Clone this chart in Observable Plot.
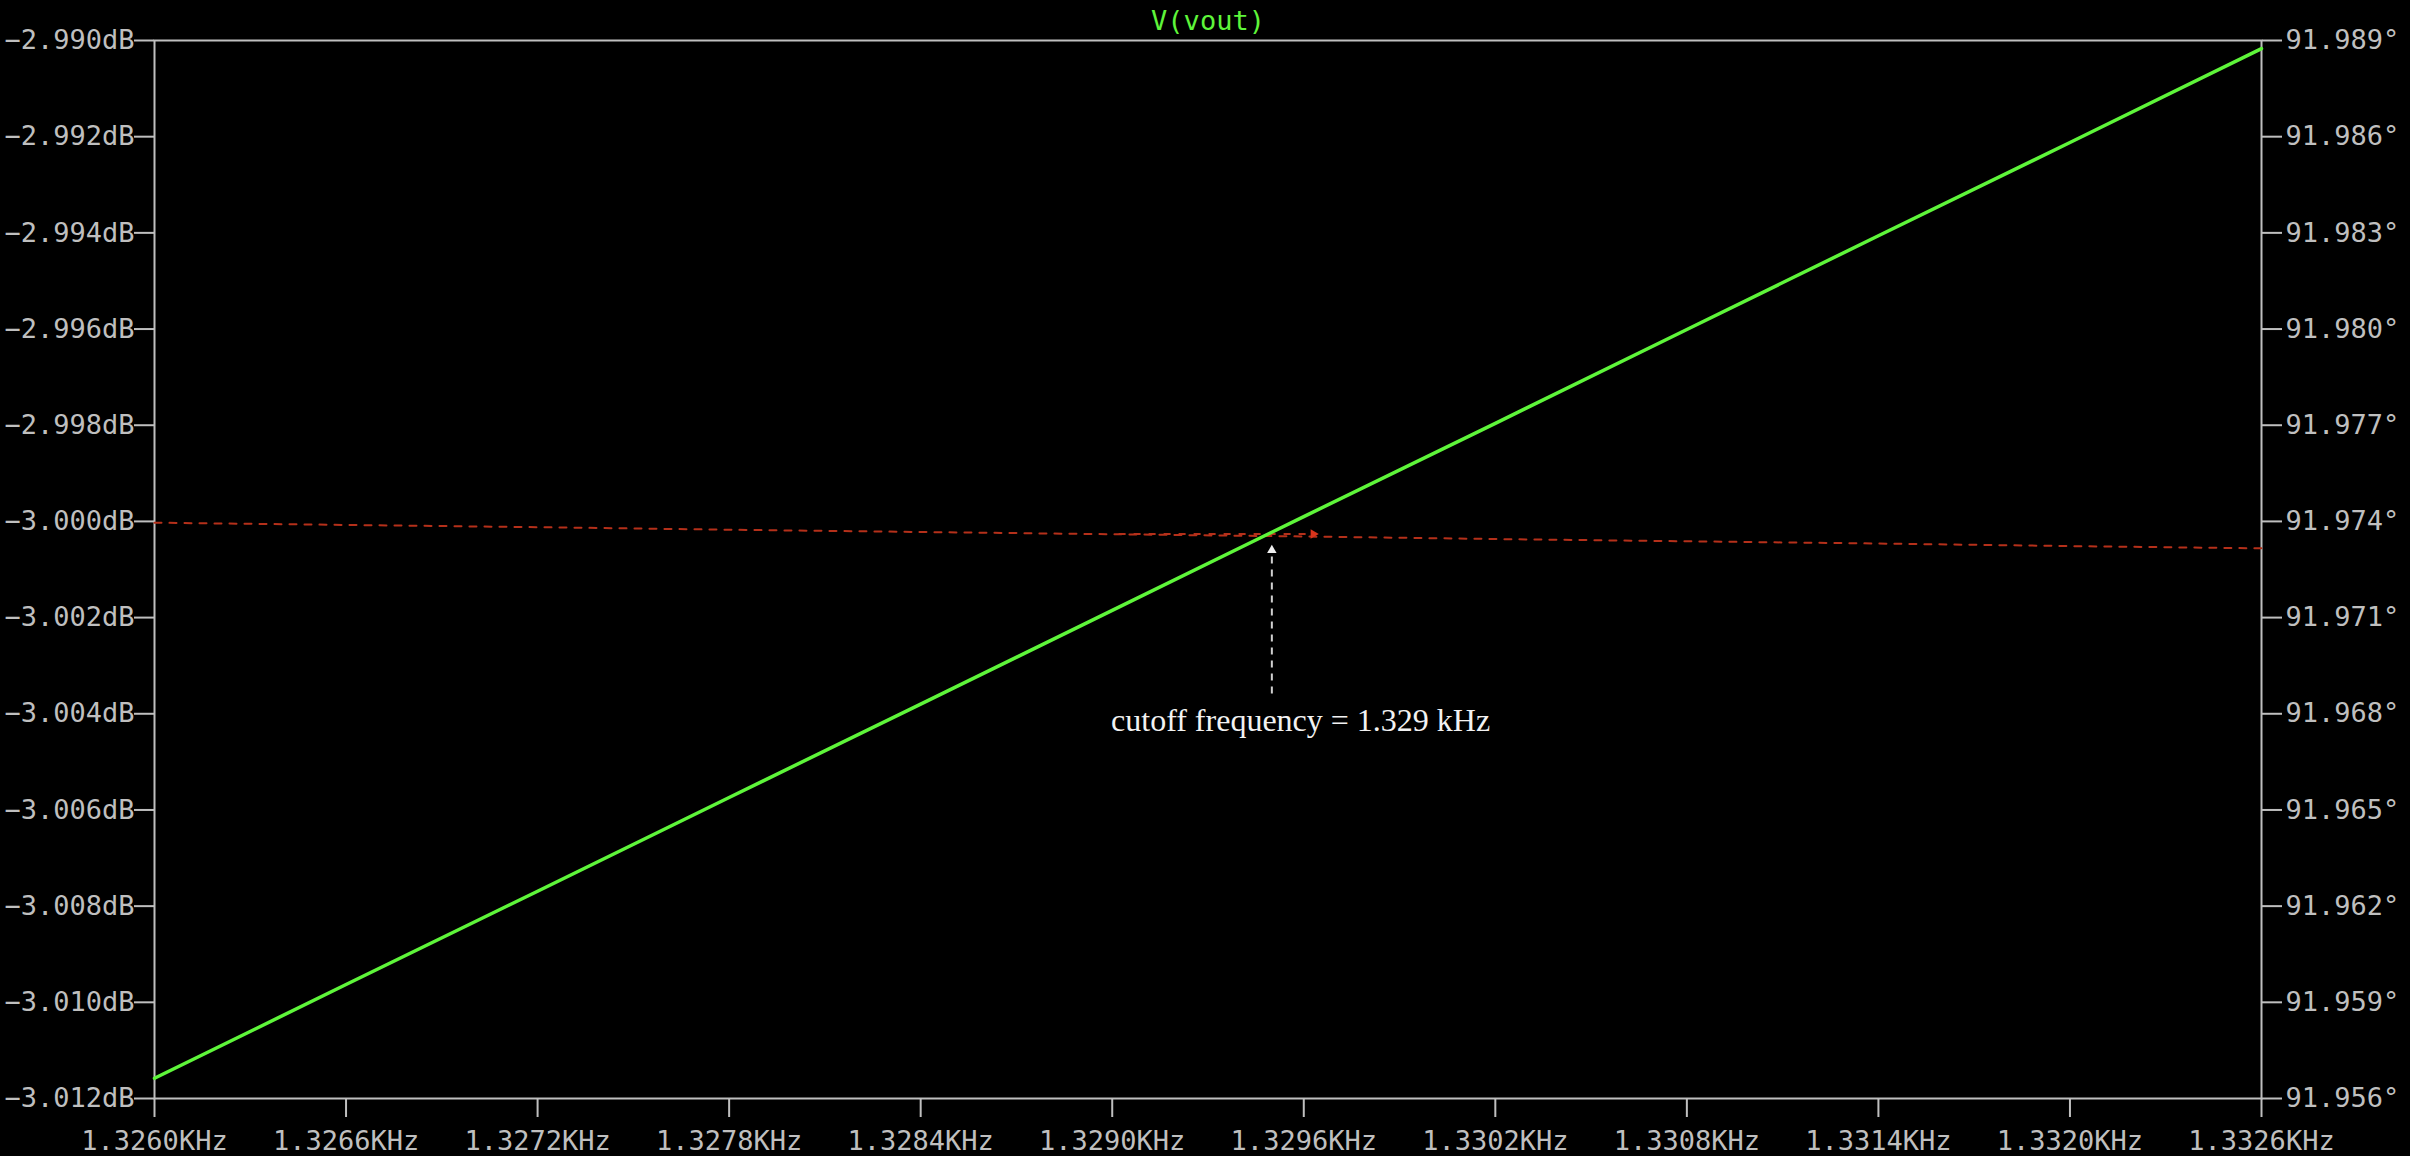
<!DOCTYPE html>
<html>
<head>
<meta charset="utf-8">
<script src="https://cdn.jsdelivr.net/npm/d3@7"></script>
<script src="https://cdn.jsdelivr.net/npm/@observablehq/plot@0.6"></script>
<style>
html, body { margin: 0; padding: 0; background: #000; }
#chart svg { display: block; }
</style>
</head>
<body>
<div id="chart"></div>
<script>
// ---- data ----
const freqKHz  = [1.3260, 1.3266, 1.3272, 1.3278, 1.3284, 1.3290, 1.3296, 1.3302, 1.3308, 1.3314, 1.3320, 1.3326];
const gainDb   = [-3.01158, -3.00963, -3.00769, -3.00574, -3.00380, -3.00185, -2.99990, -2.99796, -2.99601, -2.99406, -2.99212, -2.99017];
const phaseDeg = [91.97396, 91.97389, 91.97382, 91.97374, 91.97367, 91.97360, 91.97353, 91.97345, 91.97338, 91.97331, 91.97323, 91.97316];

const xTicks     = [1.3260, 1.3266, 1.3272, 1.3278, 1.3284, 1.3290, 1.3296, 1.3302, 1.3308, 1.3314, 1.3320, 1.3326];
const leftTicks  = [-2.990, -2.992, -2.994, -2.996, -2.998, -3.000, -3.002, -3.004, -3.006, -3.008, -3.010, -3.012];
const rightTicks = [91.989, 91.986, 91.983, 91.980, 91.977, 91.974, 91.971, 91.968, 91.965, 91.962, 91.959, 91.956];

const gainDomain  = [-3.012, -2.990];
const phaseDomain = [91.956, 91.989];
const freqDomain  = [1.3260, 1.3326];

const titleText = ["V(vout)"];
const annotationLabel = [{f: 1.32959, db: -3.00435, text: "cutoff frequency = 1.329 kHz"}];
const cutoffArrow = [{f: 1.32950, dbFrom: -3.00358, dbTo: -3.00060}];
const phaseMarker = [{fFrom: 1.32902, fTo: 1.32963, phase: 91.97361}];

// ---- build ----
const rows = freqKHz.map((f, i) => ({f, gain: gainDb[i], phase: phaseDeg[i]}));
const phaseToDb = d3.scaleLinear().domain(phaseDomain).range(gainDomain);

const GRAY = "#bfbfbf";
const GREEN = "#5ef53a";
const RED = "#b5301a";
const FONT = "'DejaVu Sans Mono', monospace";

const chart = Plot.plot({
  width: 2410,
  height: 1156,
  marginLeft: 154,
  marginRight: 149,
  marginTop: 40,
  marginBottom: 58,
  style: {background: "#000", color: GRAY, fontFamily: FONT, fontSize: "27px"},
  x: {domain: freqDomain},
  y: {domain: gainDomain},
  marks: [
    Plot.axisX({ticks: xTicks, tickFormat: d => d.toFixed(4) + "KHz", tickSize: 19, tickPadding: 13,
      stroke: GRAY, fill: GRAY, strokeWidth: 2, fontSize: 27, label: null}),
    Plot.axisY({anchor: "left", ticks: leftTicks, tickFormat: d => (d < 0 ? "\u2212" : "") + Math.abs(d).toFixed(3) + "dB",
      tickSize: 20, tickPadding: 0, stroke: GRAY, fill: GRAY, strokeWidth: 2, fontSize: 27, label: null}),
    Plot.axisY({anchor: "right", ticks: rightTicks.map(phaseToDb), tickFormat: d => phaseToDb.invert(d).toFixed(3) + "\u00b0",
      tickSize: 20, tickPadding: 4, stroke: GRAY, fill: GRAY, strokeWidth: 2, fontSize: 27, label: null}),
    Plot.frame({stroke: GRAY, strokeWidth: 2}),
    Plot.line(rows, {x: "f", y: d => phaseToDb(d.phase), stroke: RED, strokeWidth: 2, strokeDasharray: "7,8"}),
    Plot.link(phaseMarker, {x1: "fFrom", x2: "fTo", y1: d => phaseToDb(d.phase), y2: d => phaseToDb(d.phase),
      stroke: RED, strokeWidth: 2, strokeDasharray: "7,8"}),
    Plot.dot(phaseMarker, {x: "fTo", y: d => phaseToDb(d.phase), symbol: "triangle", rotate: 90, r: 3.5, fill: "#d8341c", stroke: null}),
    Plot.line(rows, {x: "f", y: "gain", stroke: GREEN, strokeWidth: 3.5}),
    Plot.link(cutoffArrow, {x1: "f", x2: "f", y1: "dbFrom", y2: "dbTo", stroke: "#d0d0d0", strokeWidth: 2, strokeDasharray: "7,6"}),
    Plot.dot(cutoffArrow, {x: "f", y: "dbTo", symbol: "triangle", r: 3.5, fill: "#eeeeee", stroke: null}),
    Plot.text(annotationLabel, {x: "f", y: "db", text: "text", fill: "#f2f2f2", fontFamily: "'Liberation Serif', serif",
      fontSize: 32, textAnchor: "middle", lineAnchor: "bottom"}),
    Plot.text(titleText, {frameAnchor: "top", text: d => d, dy: -19, fill: GREEN, fontSize: 27, fontFamily: FONT, lineAnchor: "middle"})
  ]
});

document.getElementById("chart").appendChild(chart);
</script>
</body>
</html>
